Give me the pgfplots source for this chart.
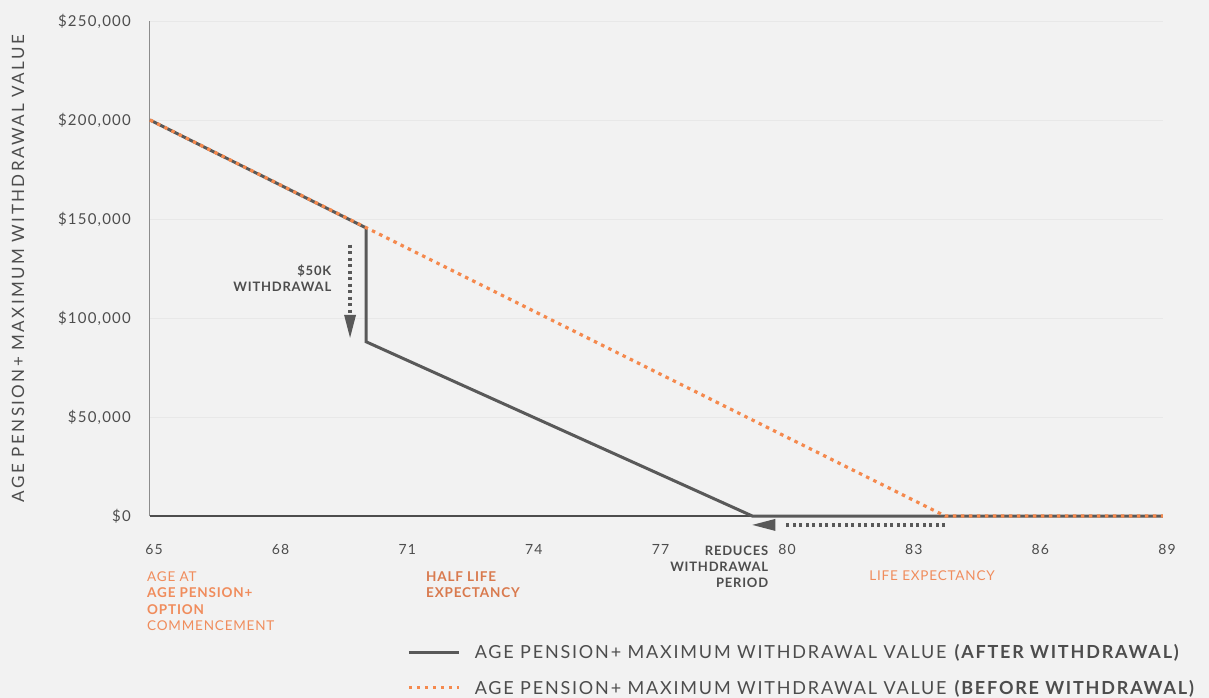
\documentclass[border=0pt]{standalone}
\usepackage{pgfplots}
\pgfplotsset{compat=1.18}
\usepackage{fontspec}
\setmainfont{Lato}
\newfontfamily\spaced[LetterSpace=10]{Lato}
\newfontfamily\ylabfont[LetterSpace=14]{Lato}
\newfontfamily\tickfont[LetterSpace=8]{Lato}
\newfontfamily\annfont[LetterSpace=6]{Lato}
\usetikzlibrary{arrows.meta,backgrounds}
\definecolor{bg}{HTML}{F2F2F2}
\definecolor{after}{HTML}{595959}
\definecolor{before}{HTML}{F5894D}
\definecolor{lbl}{HTML}{F08C5C}
\definecolor{lbldark}{HTML}{D97A4E}
\definecolor{txt}{HTML}{4D4D4D}
\definecolor{gridc}{HTML}{E8E8E8}
\newcommand{\fs}[1]{\fontsize{#1}{#1}\selectfont}

\begin{document}
\begin{tikzpicture}
\begin{axis}[
    name=ax,
    scale only axis,
    width=1013pt, height=495pt,
    xmin=65, xmax=89,
    ymin=0, ymax=250000,
    clip=false,
    axis x line*=bottom,
    axis y line*=left,
    x axis line style={draw=txt, line width=1.1pt, -},
    y axis line style={draw=gray!90, line width=1pt, -},
    major tick length=0pt,
    xtick={65,68,...,89},
    ytick={0,50000,...,250000},
    ymajorgrids,
    major grid style={gridc, line width=0.8pt},
    scaled y ticks=false,
    /pgf/number format/assume math mode=true,
    yticklabel={\$\pgfmathprintnumber[fixed, precision=0, 1000 sep={,}]{\tick}},
    yticklabel style={anchor=east, inner sep=0pt, xshift=-19pt, font=\tickfont\fs{15}, text=txt},
    xticklabel style={anchor=north, inner sep=0pt, yshift=-28pt, xshift=4pt, font=\tickfont\fs{14}, text=txt},
    ylabel={\ylabfont\fs{17}AGE PENSION+ MAXIMUM WITHDRAWAL VALUE},
    ylabel style={at={(axis description cs:-0.1303,0.5)}, anchor=center, text=txt},
    legend style={at={(axis description cs:0.2537,-0.255)}, anchor=north west,
        draw=none, fill=none, font=\spaced\fs{18}, text=txt,
        row sep=16pt, inner sep=0pt, cells={anchor=west}},
    legend image code/.code={\draw[#1] (0pt,0pt) -- (50pt,0pt); \path[draw=none] (0pt,0pt) -- (64pt,0pt);},
]
\addplot[after, line width=3pt, line join=miter] coordinates
{(65,200000) (70.12,145500) (70.12,88000) (79.27,0) (89,0)};
\addplot[before, line width=3.2pt, dash pattern=on 3.5pt off 4.5pt] coordinates
{(65,200000) (83.84,0) (89,0)};
\legend{AGE PENSION+ MAXIMUM WITHDRAWAL VALUE \textbf{(AFTER WITHDRAWAL)},
        AGE PENSION+ MAXIMUM WITHDRAWAL VALUE \textbf{(BEFORE WITHDRAWAL)}}

% annotations
\draw[after, line width=3.3pt, dash pattern=on 3pt off 3.5pt] (axis cs:69.74,137000) -- (axis cs:69.74,101000);
\fill[after] (axis cs:69.74,90000) -- ++(-6pt,23pt) -- ++(12pt,0pt) -- cycle;
\node[anchor=east, align=right, font=\annfont\bfseries\fs{13}, text=txt, inner sep=0pt]
  at (axis cs:69.3,120000) {\$50K\\[3pt]WITHDRAWAL};

\draw[after, line width=3.3pt, dash pattern=on 3pt off 3.5pt] (axis cs:83.84,-4500) -- (axis cs:80.0,-4500);
\fill[after] (axis cs:79.27,-4500) -- ++(23pt,6pt) -- ++(0pt,-12pt) -- cycle;
\node[anchor=east, align=right, font=\annfont\bfseries\fs{13}, text=txt, inner sep=0pt]
  at (axis cs:79.65,-25800) {REDUCES\\[3pt]WITHDRAWAL\\[3pt]PERIOD};

\node[anchor=west, align=left, font=\annfont\fs{13.5}, text=lbl, inner sep=0pt]
  at (axis cs:64.93,-42900) {AGE AT\\[3pt]\textbf{AGE PENSION+}\\[3pt]\textbf{OPTION}\\[3pt]COMMENCEMENT};
\node[anchor=west, align=left, font=\annfont\bfseries\fs{13.5}, text=lbldark, inner sep=0pt]
  at (axis cs:71.54,-34600) {HALF LIFE\\[3pt]EXPECTANCY};
\node[anchor=west, align=left, font=\annfont\fs{13.5}, text=lbl, inner sep=0pt]
  at (axis cs:82.04,-30300) {LIFE EXPECTANCY};
\coordinate (O) at (axis cs:65,0);
\end{axis}
\begin{scope}[on background layer]
\fill[bg] ([shift={(-150pt,-182pt)}]O) rectangle ([shift={(1059pt,516pt)}]O);
\end{scope}
\pgfresetboundingbox
\path[use as bounding box] ([shift={(-150pt,-182pt)}]O) rectangle ([shift={(1059pt,516pt)}]O);
\end{tikzpicture}
\end{document}
